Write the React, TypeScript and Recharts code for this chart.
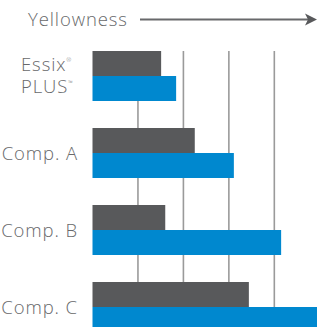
import React from "react";
import { BarChart, Bar, XAxis, YAxis, CartesianGrid } from "recharts";

const categories = ["Essix PLUS", "Comp. A", "Comp. B", "Comp. C"];
const darkValues = [1.51, 2.25, 1.6, 3.44];
const blueValues = [1.84, 3.11, 4.15, 5.2];
const gridTicks = [1, 2, 3, 4];
const xDomain = [0, 5.5];
const axisTitle = "Yellowness";

const data = categories.map((name, i) => ({
  name,
  dark: darkValues[i],
  blue: blueValues[i],
}));

const FONT = "'Open Sans', sans-serif";
const TEXT_COLOR = "#68696b";
const FS = 18.5;
const LS = 0.9;
const FW = 300;

const CategoryTick = (props: any) => {
  const { y, payload } = props;
  const v = payload.value as string;
  if (v === "Essix PLUS") {
    return (
      <text fontFamily={FONT} fontSize={FS} fontWeight={FW} letterSpacing={LS} fill={TEXT_COLOR}>
        <tspan x={21} y={y - 5}>Essix</tspan>
        <tspan fontSize={6} dy={-9}>®</tspan>
        <tspan x={21} y={y + 17.5}>PLUS</tspan>
        <tspan fontSize={6} dy={-8}>™</tspan>
      </text>
    );
  }
  return (
    <text x={78} y={y + 7} textAnchor="end" fontFamily={FONT} fontSize={FS} fontWeight={FW} letterSpacing={LS} fill={TEXT_COLOR}>
      {v}
    </text>
  );
};

const gridGen = (p: any) => {
  const s = p && p.xAxis ? p.xAxis.scale : undefined;
  if (typeof s === "function") return gridTicks.map((t) => s(t));
  if (s && typeof s.map === "function") return gridTicks.map((t) => s.map(t));
  const off = p.offset || {};
  const left = off.left ?? 92.5;
  const w = off.width ?? 250;
  return gridTicks.map((t) => left + ((t - xDomain[0]) / (xDomain[1] - xDomain[0])) * w);
};

export default function App() {
  return (
    <div
      style={{
        position: "absolute",
        left: 0,
        top: 0,
        width: 317,
        height: 327,
        overflow: "hidden",
        background: "#fff",
      }}
    >
      <div
        style={{
          position: "absolute",
          left: 28,
          top: 6,
          fontFamily: FONT,
          fontSize: FS,
          fontWeight: FW,
          letterSpacing: LS,
          color: TEXT_COLOR,
          lineHeight: "26px",
          whiteSpace: "nowrap",
        }}
      >
        {axisTitle}
      </div>
      <svg
        width={317}
        height={327}
        style={{ position: "absolute", left: 0, top: 0 }}
      >
        <line x1={140} y1={19.5} x2={308} y2={19.5} stroke="#68696b" strokeWidth={1.8} />
        <polygon points="317,19.5 305,13.5 308,19.5 305,25.5" fill="#58595b" />
      </svg>
      <div style={{ position: "absolute", left: 0, top: 0 }}>
        <BarChart
          width={342.5}
          height={346}
          data={data}
          layout="vertical"
          margin={{ top: 37, right: 0, bottom: 1, left: 0 }}
          barCategoryGap={14}
          barGap={0}
        >
          <CartesianGrid
            horizontal={false}
            vertical={true}
            y={51}
            height={300}
            stroke="#9a9a9a"
            strokeWidth={1.6}
            verticalCoordinatesGenerator={gridGen}
          />
          <XAxis
            type="number"
            domain={xDomain}
            ticks={gridTicks}
            height={0}
            axisLine={false}
            tickLine={false}
            tick={false}
          />
          <YAxis
            type="category"
            dataKey="name"
            width={92.5}
            axisLine={false}
            tickLine={false}
            tick={<CategoryTick />}
            interval={0}
          />
          <Bar dataKey="dark" fill="#58595b" isAnimationActive={false} />
          <Bar dataKey="blue" fill="#0088cf" isAnimationActive={false} />
        </BarChart>
      </div>
    </div>
  );
}
